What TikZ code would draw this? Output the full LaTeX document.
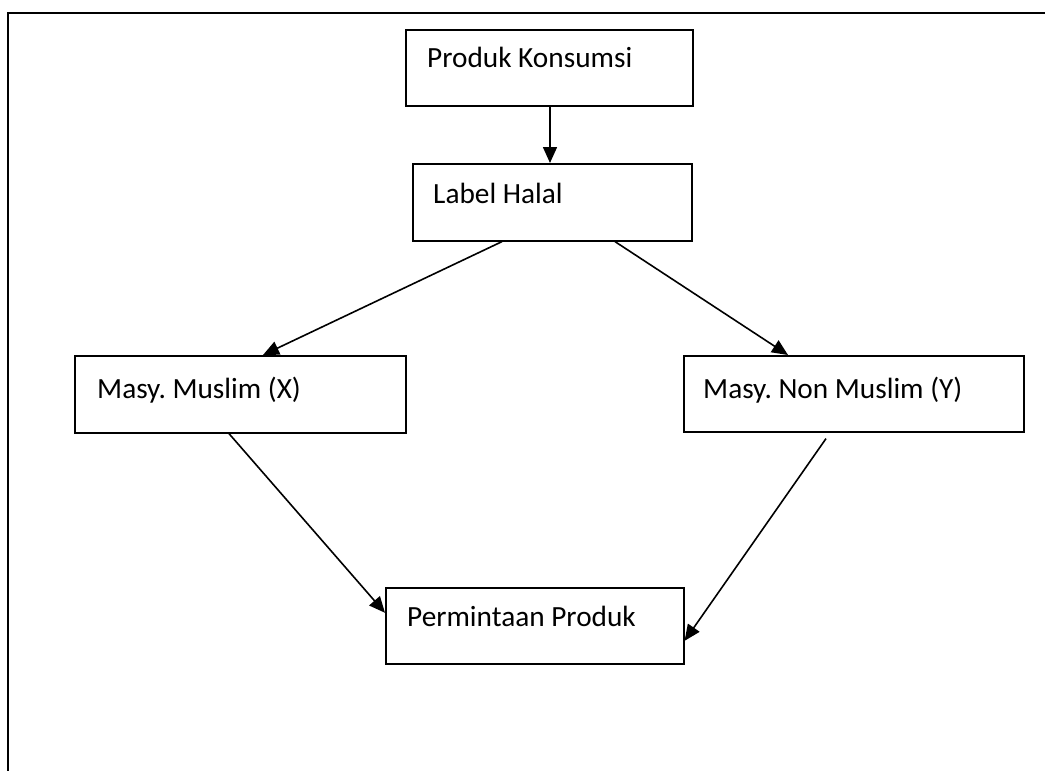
\documentclass[tikz,border=0pt]{standalone}
\usepackage{fontspec}
\setmainfont{Carlito}
\usetikzlibrary{arrows.meta}
\begin{document}
\frenchspacing
\begin{tikzpicture}[x=1pt,y=-1pt,
  box/.style={draw, line width=1.6pt, inner sep=0pt, anchor=north west},
  txt/.style={anchor=base west, inner sep=0pt, font=\fontsize{29.3}{34}\selectfont},
  conn/.style={line width=1.6pt, -{Triangle[length=16pt,width=14pt]}}]
\useasboundingbox (0,0) rectangle (1045,771);
\draw[line width=2.4pt] (8,771) -- (8,13) -- (1045,13);
% boxes
\node[box, minimum width=287pt, minimum height=76pt] (pk) at (405,29) {};
\node[txt] (pkt) at (427,67) {Produk Konsumsi};
\node[box, minimum width=279pt, minimum height=77pt] (lh) at (412,163) {};
\node[txt] (lht) at (433,203) {Label Halal};
\node[box, minimum width=331pt, minimum height=77pt] (ms) at (74,355) {};
\node[txt] (mst) at (97,398) {Masy. Muslim (X)};
\node[box, minimum width=340pt, minimum height=76pt] (ns) at (683,355) {};
\node[txt] (nst) at (703,398) {Masy. Non Muslim (Y)};
\node[box, minimum width=298pt, minimum height=76pt] (pp) at (385,587) {};
\node[txt] (ppt) at (407,626) {Permintaan Produk};
% connectors
\draw[conn] ([xshift=145pt]pk.south west) -- ([xshift=138pt]lh.north west);
\draw[conn] ([xshift=90pt]lh.south west) -- ([xshift=189pt]ms.north west);
\draw[conn] ([xshift=203pt]lh.south west) -- ([xshift=105pt]ns.north west);
\draw[conn] ([xshift=155pt]ms.south west) -- ([yshift=13pt]pp.west);
\draw[conn] ([xshift=143pt,yshift=-6pt]ns.south west) -- ([yshift=-15pt]pp.east);
\end{tikzpicture}
\end{document}
